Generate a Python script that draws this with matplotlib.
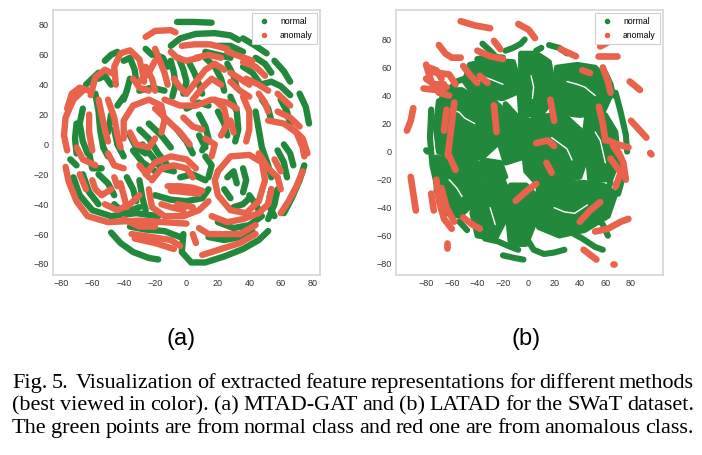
import matplotlib
matplotlib.use("Agg")
import matplotlib.pyplot as plt
from matplotlib.lines import Line2D

# ---------------- data ----------------
# Panel (a): MTAD-GAT  -- strokes of t-SNE points (x, y)
a_normal = [
    [(-6, 82), (5, 82), (16, 81.5)],
    [(-10, 66), (-4, 71), (6, 74), (18, 74.5), (28, 73), (33, 70)],
    [(36, 71), (44, 66), (51, 61)],
    [(56, 56), (62, 49), (66, 42)],
    [(72, 34), (76, 25), (78, 14)],
    [(47, 40), (54, 42), (60, 39), (66, 33)],
    [(-20, 60), (-15, 58), (-12, 52)],
    [(-26, 64), (-22, 60)],
    [(-10, 56), (-8, 48), (-7, 40), (-9, 32)],
    [(-5, 58), (-2, 50), (0, 42), (-2, 34)],
    [(2, 54), (5, 48), (8, 40), (10, 34)],
    [(12, 58), (18, 52), (22, 44), (24, 36)],
    [(26, 54), (30, 46), (32, 38)],
    [(36, 52), (42, 48), (46, 42)],
    [(-40, 56), (-36, 58), (-33, 50), (-32, 42)],
    [(-56, 44), (-52, 46), (-48, 40)],
    [(-66, 24), (-68, 14), (-66, 2), (-63, -6)],
    [(-58, 34), (-56, 22), (-55, 10), (-53, -2), (-50, -8)],
    [(-46, 10), (-44, 0), (-40, -8)],
    [(-36, 6), (-32, -2), (-26, -6)],
    [(-30, 10), (-24, 4), (-18, -6), (-12, -14)],
    [(-28, 0), (-22, -8), (-16, -16), (-8, -18)],
    [(-34, -4), (-28, -12), (-20, -18)],
    [(-24, 14), (-16, 6), (-10, -2)],
    [(-6, 10), (0, 2), (4, -6)],
    [(8, 20), (12, 12), (14, 4), (10, -4)],
    [(20, 22), (24, 14), (26, 6)],
    [(28, 32), (32, 22), (33, 10), (31, 2)],
    [(44, 22), (46, 10), (48, -2), (52, -14), (54, -22)],
    [(58, -4), (62, -12), (64, -22)],
    [(26, -22), (30, -18), (32, -26)],
    [(36, -16), (38, -24), (36, -32)],
    [(24, -30), (28, -36)],
    [(40, -34), (44, -40), (46, -44)],
    [(62, -46), (67, -36), (72, -24), (75, -14)],
    [(-2, -60), (-3, -72), (3, -79), (12, -79), (24, -75), (36, -70), (46, -64), (52, -58)],
    [(-48, -59), (-42, -66), (-34, -72), (-24, -76), (-18, -77)],
    [(-36, -55), (-26, -57), (-14, -58), (-4, -62)],
    [(-20, -34), (-10, -37), (0, -38), (10, -36), (14, -30)],
    [(-72, -22), (-68, -34), (-60, -44), (-48, -48), (-32, -46), (-18, -48)],
    [(-56, -20), (-50, -26), (-46, -34)],
    [(-38, -22), (-34, -30), (-32, -38)],
    [(20, -52), (30, -56), (40, -54), (48, -48)],
    [(-74, -10), (-70, -14)],
    [(12, 62), (20, 60), (28, 58)],
    [(-44, 26), (-40, 32)],
    [(54, -30), (52, -40), (56, -48)],
    [(-52, 56), (-48, 60), (-44, 62)],
    [(-64, 40), (-60, 44), (-56, 48)],
    [(-70, 14), (-71, 4), (-70, -6)],
    [(-36, 44), (-38, 36), (-40, 30)],
    [(-30, 36), (-22, 38), (-14, 36)],
    [(-48, 20), (-50, 8)],
    [(20, 66), (28, 66), (36, 62)],
    [(44, 58), (50, 54), (54, 48)],
    [(48, 30), (52, 24), (54, 16)],
    [(60, 30), (64, 22), (66, 14)],
    [(-66, -20), (-62, -32), (-56, -40)],
    [(-46, -40), (-40, -46), (-30, -42)],
    [(-30, -24), (-28, -36), (-26, -44)],
    [(-62, -6), (-60, -16), (-54, -16)],
    [(14, -62), (24, -64), (34, -62), (42, -58)],
    [(52, -50), (56, -40), (58, -30)],
    [(30, -42), (36, -40), (40, -36)],
    [(62, 0), (66, -6), (68, -14)],
    [(0, 24), (8, 28), (14, 26)],
    [(-4, -22), (4, -20), (12, -24)],
    [(12, -8), (16, -14), (14, -22)],
    [(8, 6), (12, -2)],
]
a_anomaly = [
    [(-26, 72), (-20, 76), (-10, 76.5), (-7, 75)],
    [(-3, 66), (5, 67), (15, 67), (26, 64)],
    [(26, 62), (34, 59), (42, 56)],
    [(36, 55), (44, 52), (50, 46)],
    [(38, 44), (46, 40), (52, 36)],
    [(-45, 40), (-46, 52), (-42, 61), (-36, 63), (-30, 57), (-28, 48), (-27, 42)],
    [(-61, 33), (-58, 45), (-52, 50), (-46, 47)],
    [(-76, 24), (-73, 34), (-68, 38), (-62, 36)],
    [(-66, 36), (-72, 30), (-77, 18), (-78, 6), (-76, -4)],
    [(-20, 64), (-17, 56), (-14, 48), (-12, 40)],
    [(-26, 52), (-22, 44), (-20, 36)],
    [(0, 34), (6, 42), (12, 50), (18, 54), (24, 50)],
    [(4, 30), (10, 38), (16, 44), (22, 40)],
    [(-14, 30), (-4, 26), (6, 26), (16, 30), (26, 28), (32, 24)],
    [(-40, 4), (-40, 16), (-34, 26), (-24, 30), (-16, 26), (-14, 16), (-16, 8)],
    [(-36, 8), (-32, 0), (-24, -2), (-20, 4)],
    [(-20, 24), (-12, 16), (-4, 8), (2, 0)],
    [(-50, 30), (-46, 18), (-44, 6), (-42, -2)],
    [(-62, 20), (-62, 8), (-60, -4)],
    [(36, 32), (40, 22), (40, 10), (38, 2)],
    [(18, 30), (24, 24), (26, 14), (22, 6)],
    [(52, 16), (62, 14), (70, 8), (74, -2), (75, -8)],
    [(58, 22), (66, 18), (72, 12)],
    [(66, 12), (74, 4), (77, -6)],
    [(46, -6), (52, -16), (58, -22), (60, -30)],
    [(20, -18), (28, -8), (40, -7), (48, -12), (50, -24), (46, -38), (38, -46),
     (28, -44), (20, -34), (18, -24), (20, -18)],
    [(60, -46), (65, -38), (70, -28), (74, -18)],
    [(-26, -20), (-20, -12), (-10, -8), (0, -10), (6, -16)],
    [(-22, -24), (-16, -16), (-8, -14), (0, -16), (4, -22)],
    [(-12, -28), (-4, -28), (4, -29), (10, -31)],
    [(-10, -31), (0, -32), (8, -33)],
    [(-24, -30), (-22, -42), (-14, -48), (-2, -48), (8, -44), (14, -38)],
    [(-77, -15), (-75, -25), (-70, -38), (-63, -48), (-50, -52), (-30, -51), (-15, -52), (0, -53)],
    [(-35, -60), (-22, -62), (-10, -64), (-4, -68)],
    [(-33, -63), (-20, -66), (-8, -70)],
    [(10, -74), (22, -70), (34, -66), (44, -60)],
    [(16, -48), (26, -52), (36, -50), (46, -46), (52, -40), (54, -30)],
    [(-70, -2), (-66, -10), (-58, -14)],
    [(-60, -24), (-58, -30), (-54, -34), (-48, -30)],
    [(-42, -26), (-40, -34), (-38, -42)],
    [(-6, -40), (4, -42)],
    [(28, 42), (34, 36), (40, 32)],
    [(-50, -6), (-46, -14), (-40, -16)],
    [(-2, 18), (4, 12), (10, 10)],
    [(-30, -14), (-24, -22)],
    [(-56, 30), (-54, 20), (-52, 10), (-50, 2)],
    [(-34, 44), (-30, 38), (-24, 36)],
    [(-20, 56), (-24, 48), (-30, 42)],
    [(-10, 62), (-6, 58), (0, 56), (8, 58)],
    [(-8, 44), (-4, 38), (0, 34)],
    [(46, 34), (50, 28), (52, 22)],
    [(58, 34), (62, 30), (66, 26)],
    [(6, 58), (14, 60), (22, 58)],
    [(28, 48), (34, 44), (40, 40)],
    [(-52, -40), (-44, -44), (-36, -40), (-30, -34)],
    [(-68, -20), (-64, -30)],
    [(-46, -22), (-44, -28)],
    [(-40, -50), (-30, -55), (-20, -55)],
    [(8, -56), (14, -60), (22, -60)],
    [(56, -10), (60, -18)],
    [(24, -60), (34, -60), (44, -54)],
    [(4, -60), (6, -66)],
    [(-16, -40), (-10, -42), (-2, -44)],
    [(12, 4), (18, 0), (16, -8)],
    [(28, 16), (30, 8)],
]

# Panel (b): LATAD -- dense normal regions (outlines), strokes, and white gaps inside regions
b_normal_regions = [
    [(-46, 62), (-30, 65), (-12, 64), (-9, 54), (-10, 42), (-20, 38), (-42, 40), (-50, 50)],
    [(-6, 70), (6, 70), (16, 64), (19, 50), (18, 36), (10, 27), (-6, 26), (-7, 40), (-6, 56)],
    [(22, 60), (38, 62), (52, 60), (60, 52), (63, 38), (58, 28), (40, 26), (22, 28), (21, 44)],
    [(-66, 44), (-52, 44), (-40, 37), (-26, 35), (-20, 30), (-20, 18), (-24, 6), (-36, -4),
     (-56, -6), (-70, 0), (-73, 20)],
    [(-18, 34), (-8, 24), (2, 22), (2, 6), (-4, -4), (-18, -8), (-22, 4), (-18, 20)],
    [(4, 24), (18, 26), (30, 24), (42, 14), (45, -4), (40, -18), (22, -22), (6, -22),
     (-2, -14), (-4, 2)],
    [(46, 28), (60, 26), (68, 14), (70, -6), (64, -20), (48, -20), (46, -2), (44, 14)],
    [(-72, -4), (-54, -8), (-40, -8), (-36, -20), (-42, -36), (-54, -46), (-64, -44), (-72, -28)],
    [(-34, -20), (-20, -20), (-16, -30), (-18, -48), (-26, -62), (-40, -60), (-44, -44), (-40, -28)],
    [(-14, -24), (-2, -24), (6, -32), (5, -50), (-2, -66), (-14, -66), (-16, -48)],
    [(8, -24), (24, -24), (42, -22), (58, -24), (68, -30), (62, -46), (44, -56), (24, -60),
     (8, -54), (7, -38)],
    [(-36, -6), (-22, -8), (-18, -18), (-30, -18), (-38, -14)],
]
b_gaps = [
    [(-40, 50), (-34, 53), (-28, 51), (-20, 48)],
    [(-60, 30), (-54, 28), (-50, 24), (-42, 20)],
    [(18, 10), (24, 6), (30, 2), (34, -6)],
    [(52, 14), (56, 8), (58, 0), (60, -8)],
    [(-30, -40), (-28, -46), (-26, -52)],
    [(20, -40), (28, -43), (36, -44), (46, -38)],
    [(2, 54), (4, 46), (3, 38)],
    [(30, 50), (38, 48), (44, 46), (52, 40)],
    [(-62, -20), (-56, -26), (-52, -32)],
]
b_normal = [
    [(-76, 30), (-77, 10), (-75, -10), (-72, -22)],
    [(-70, 36), (-72, 20), (-70, 0)],
    [(68, 42), (72, 28), (76, 12), (77, 0)],
    [(72, -10), (73, -20), (70, -30)],
    [(-34, -62), (-24, -64), (-14, -68), (-8, -70)],
    [(0, -64), (4, -70), (12, -73), (20, -72), (28, -70)],
    [(30, -56), (42, -62), (52, -68), (58, -70)],
    [(-36, 77), (-30, 72), (-26, 68)],
    [(-18, 72), (-12, 74), (-6, 77), (-3, 80)],
    [(6, 72), (10, 74)],
    [(16, 76), (24, 74), (30, 70)],
    [(-20, -74), (-10, -76), (-4, -77)],
    [(-54, -50), (-48, -56)],
    [(56, -40), (60, -30), (64, -22)],
    [(-80, 1), (-79, 0)],
    [(52, -46), (58, -52), (62, -60)],
    [(-62, 44), (-56, 50), (-50, 52)],
    [(-40, 66), (-30, 68), (-20, 67)],
    [(60, 56), (64, 48), (66, 40)],
]
b_anomaly = [
    [(-53, 93), (-42, 90), (-30, 88)],
    [(-8, 91), (0, 87), (5, 81)],
    [(-27, 79), (-22, 73)],
    [(-40, 72), (-30, 68), (-20, 66)],
    [(-70, 76), (-65, 70), (-60, 67), (-53, 67)],
    [(25, 73), (37, 68)],
    [(54, 68), (69, 68)],
    [(56, 75), (62, 78)],
    [(-80, 62), (-76, 50), (-70, 42), (-62, 40)],
    [(-76, 57), (-62, 55), (-57, 48)],
    [(-82, 45), (-72, 44), (-64, 46)],
    [(-78, 60), (-72, 58), (-68, 52)],
    [(-80, 52), (-74, 48), (-66, 48)],
    [(-51, 61), (-46, 55), (-40, 49)],
    [(-90, 31), (-92, 22), (-95, 15)],
    [(-58, 35), (-60, 20), (-62, 5), (-63, -3)],
    [(-64, 30), (-66, 15)],
    [(-63, -1), (-57, -13)],
    [(-92, -18), (-90, -30), (-88, -42)],
    [(-72, -20), (-70, -35), (-66, -48), (-60, -55)],
    [(-76, -30), (-74, -42)],
    [(-68, -26), (-64, -40), (-58, -50)],
    [(-51, -47), (-44, -52), (-38, -55)],
    [(-64, -65), (-64, -69)],
    [(-27, 33), (-25, 14)],
    [(17, 37), (20, 22)],
    [(6, 6), (15, 8), (20, 4)],
    [(14, -8), (18, -15)],
    [(-10, -35), (0, -27), (6, -23)],
    [(-38, 54), (-32, 49)],
    [(42, 58), (48, 56)],
    [(58, 60), (62, 50), (64, 42)],
    [(55, 32), (58, 20), (60, 8)],
    [(62, 8), (70, 5), (78, 3)],
    [(64, -5), (72, -15), (68, -25)],
    [(70, 0), (74, -8), (76, -20)],
    [(66, 4), (72, -4)],
    [(79, 50), (87, 44)],
    [(80, 22), (86, 16), (92, 10)],
    [(95, -1), (96, -2)],
    [(40, -50), (48, -42), (56, -36)],
    [(52, -57), (62, -55), (72, -50), (78, -48)],
    [(43, -70), (53, -77)],
    [(66, -80), (67, -80)],
]

categories = ["normal", "anomaly"]
sub_labels = ["(a)", "(b)"]
caption_lines = [
    "Fig. 5.  Visualization of extracted feature representations for different methods",
    "(best viewed in color). (a) MTAD-GAT and (b) LATAD for the SWaT dataset.",
    "The green points are from normal class and red one are from anomalous class.",
]
ticks = [-80, -60, -40, -20, 0, 20, 40, 60, 80]

# ---------------- drawing ----------------
GREEN = "#22893c"
RED = "#e8624c"
W, H = 702, 455

fig = plt.figure(figsize=(W / 100, H / 100), dpi=100)
axa = fig.add_axes([53 / W, 1 - 275 / H, 267 / W, 265 / H])
axb = fig.add_axes([396 / W, 1 - 275 / H, 267 / W, 265 / H])


def style(ax, xlim, ylim):
    ax.set_xlim(*xlim)
    ax.set_ylim(*ylim)
    ax.set_xticks(ticks)
    ax.set_yticks(ticks)
    for s in ax.spines.values():
        s.set_color("#d6d6d6")
        s.set_linewidth(1.2)
    ax.tick_params(length=0, labelsize=6.5, labelcolor="#333333", pad=3)
    for lab in ax.get_xticklabels() + ax.get_yticklabels():
        lab.set_family("Liberation Sans")
    handles = [Line2D([], [], ls="none", marker="o", ms=3, color=GREEN),
               Line2D([], [], ls="none", marker="o", ms=3, color=RED)]
    leg = ax.legend(handles, categories, loc="upper right",
                    borderaxespad=0.35, handletextpad=0.8, labelspacing=0.5,
                    borderpad=0.5, prop={"family": "Liberation Sans", "size": 6.2},
                    fancybox=False, framealpha=1)
    leg.get_frame().set_edgecolor("#d0d0d0")
    leg.get_frame().set_linewidth(0.8)


def strokes(ax, lst, color, lw):
    for s in lst:
        xs = [p[0] for p in s]
        ys = [p[1] for p in s]
        ax.plot(xs, ys, color=color, lw=lw, solid_capstyle="round",
                solid_joinstyle="round")


strokes(axa, a_normal, GREEN, 4.6)
strokes(axa, a_anomaly, RED, 4.6)

for reg in b_normal_regions:
    axb.fill([p[0] for p in reg], [p[1] for p in reg], color=GREEN, lw=4.0,
             ec=GREEN, joinstyle="round")
strokes(axb, b_gaps, "white", 1.0)
strokes(axb, b_normal, GREEN, 4.4)
strokes(axb, b_anomaly, RED, 4.8)

style(axa, (-85, 85), (-87.4, 90))
style(axb, (-103.5, 105), (-88, 101))

fig.text(181 / W, 1 - 339 / H, sub_labels[0], fontsize=17, ha="center", va="center",
         family="Liberation Sans")
fig.text(526 / W, 1 - 339 / H, sub_labels[1], fontsize=17, ha="center", va="center",
         family="Liberation Sans")

# justified caption (an empty token keeps the double space after "Fig. 5.")
renderer = fig.canvas.get_renderer()
x0, x1 = 12, 694
baselines = [388, 410.5, 433]
for line, yb in zip(caption_lines, baselines):
    words = line.split(" ")
    ts = [fig.text(0, 1 - yb / H, w, fontsize=16, family="Liberation Serif",
                   va="baseline", ha="left") for w in words]
    widths = [t.get_window_extent(renderer).width if w else 0.0
              for t, w in zip(ts, words)]
    gap = (x1 - x0 - sum(widths)) / (len(ts) - 1)
    x = x0
    for t, w in zip(ts, widths):
        t.set_x(x / W)
        x += w + gap

fig.savefig("out.png", dpi=100)
